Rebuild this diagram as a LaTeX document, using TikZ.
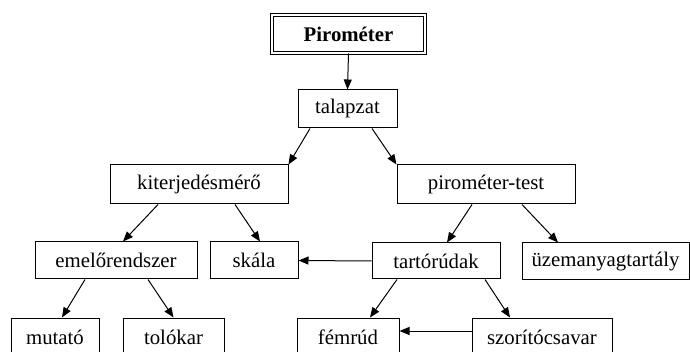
\documentclass[tikz,border=0pt]{standalone}
\usepackage{fontspec}
\setmainfont{Liberation Serif}
\usetikzlibrary{arrows.meta}
\begin{document}
\begin{tikzpicture}[x=1pt,y=-1pt,
  box/.style={draw,line width=1pt,inner sep=0pt,minimum height=38pt,
    font=\fontsize{20.8}{25}\selectfont},
  titlebox/.style={box,double,line width=1pt,double distance=2pt,
    font=\fontsize{20.8}{25}\selectfont\bfseries},
  arr/.style={line width=1pt,-{Triangle[length=10pt,width=8pt]}}]
\useasboundingbox (0,0) rectangle (690,352);
\clip (0,0) rectangle (690,352);
\node[titlebox,minimum width=153pt,minimum height=38pt] (piro) at (348.5,34) {Pirométer};
\node[box,minimum width=99pt] (tal) at (347.5,109) {talapzat};
\node[box,minimum width=178pt,minimum height=39pt] (kit) at (199,184.5) {kiterjedésmérő};
\node[box,minimum width=178pt,minimum height=39pt] (pt) at (486,184.5) {pirométer-test};
\node[box,minimum width=162pt,minimum height=37pt] (emel) at (116,260.5) {emelőrendszer};
\node[box,minimum width=88pt,minimum height=37pt] (skala) at (254,260.5) {skála};
\node[box,minimum width=128pt,minimum height=36pt] (tarto) at (436,261) {tartórúdak};
\node[box,minimum width=167pt,minimum height=37pt] (uzem) at (605.5,261.5) {üzemanyagtartály};
\node[box,minimum width=88pt] (mut) at (55,337) {mutató};
\node[box,minimum width=101pt] (tolo) at (173.5,337) {tolókar};
\node[box,minimum width=102pt] (fem) at (348,337) {fémrúd};
\node[box,minimum width=140pt] (szor) at (542,337) {szorítócsavar};
\draw[arr] (piro.south) -- (tal.north);
\draw[arr] ([xshift=-37.5pt]tal.south) -- (kit.north east);
\draw[arr] ([xshift=24.5pt]tal.south) -- (pt.north west);
\draw[arr] ([xshift=-41pt]kit.south) -- ([xshift=7pt]emel.north);
\draw[arr] ([xshift=36pt]kit.south) -- ([xshift=6pt]skala.north);
\draw[arr] ([xshift=-31pt]emel.south) -- ([xshift=7pt]mut.north);
\draw[arr] ([xshift=32pt]emel.south) -- (tolo.north);
\draw[arr] ([xshift=-14pt]pt.south) -- ([xshift=11pt]tarto.north);
\draw[arr] ([xshift=36pt]pt.south) -- ([xshift=-47.5pt]uzem.north);
\draw[arr] (tarto.west) -- (skala.east);
\draw[arr] ([xshift=-39pt]tarto.south) -- ([xshift=22pt]fem.north);
\draw[arr] ([xshift=49pt]tarto.south) -- ([xshift=-32pt]szor.north);
\draw[arr] ([yshift=6pt]szor.west) -- ([yshift=6pt]fem.east);
\end{tikzpicture}
\end{document}
